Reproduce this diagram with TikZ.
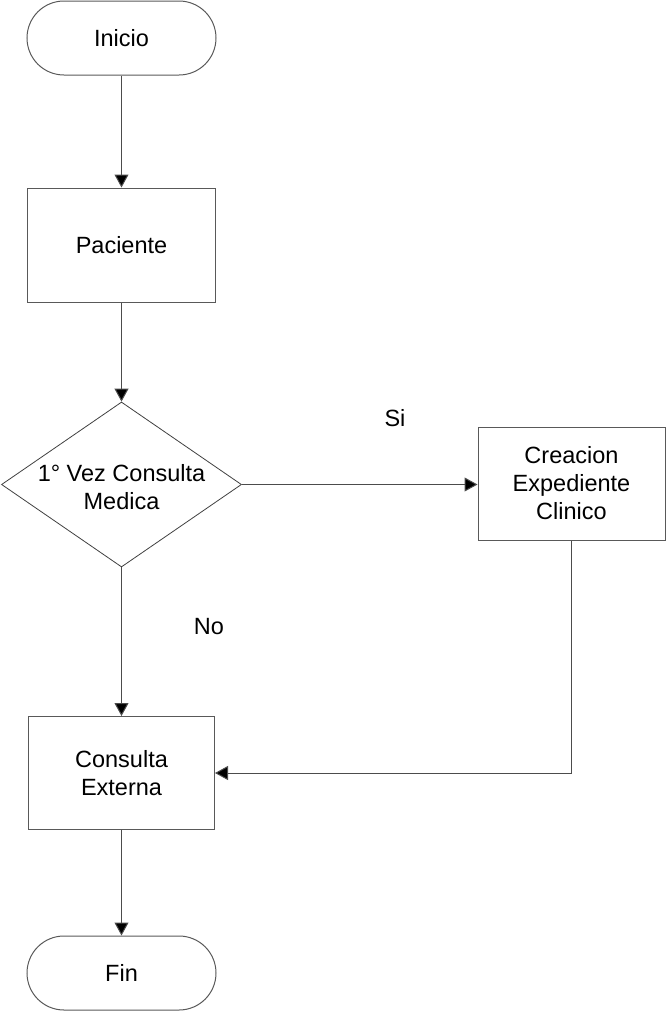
\documentclass[tikz,border=0pt]{standalone}
\usepackage{fontspec}
\setmainfont{Liberation Sans}
\usetikzlibrary{shapes.geometric,arrows.meta}
\begin{document}
\begin{tikzpicture}[x=1pt,y=-1pt,
  every node/.style={font=\fontsize{23.5}{28}\selectfont, align=center, text=black},
  terminal/.style={draw=black!65, line width=1pt, rectangle, rounded corners=37pt,
    minimum width=189pt, minimum height=74pt},
  process/.style={draw=black!65, line width=1pt, rectangle, inner sep=0pt},
  decision/.style={draw=black!75, line width=0.8pt, diamond, inner sep=0pt,
    minimum width=240pt, minimum height=165pt},
  flow/.style={draw=black!70, line width=1pt, -{Triangle[length=13pt,width=14pt,fill=black]}}]
  \useasboundingbox (0,0) rectangle (666,1012);

  \node[terminal] (inicio) at (121.5,38) {Inicio};
  \node[process, minimum width=188pt, minimum height=114pt] (paciente) at (121.5,245) {Paciente};
  \node[decision] (q) at (121.5,484.5) {};
  \node (qtext) at (121.5,487) {1° Vez Consulta\\Medica};
  \node[process, minimum width=187pt, minimum height=113pt] (creacion) at (571.5,483.5)
    {Creacion\\Expediente\\Clinico};
  \node[process, minimum width=186pt, minimum height=113pt] (externa) at (121.5,773)
    {Consulta\\Externa};
  \node[terminal] (fin) at (121.5,973) {Fin};

  \node (si) at (395,418) {Si};
  \node (no) at (209,627) {No};

  \draw[flow] (inicio.south) -- (paciente.north);
  \draw[flow] (paciente.south) -- (q.north);
  \draw[flow] (q.east) -- (q.east -| creacion.west);
  \draw[flow] (q.south) -- (externa.north);
  \draw[flow] (creacion.south) |- (externa.east);
  \draw[flow] (externa.south) -- (fin.north);
\end{tikzpicture}
\end{document}
